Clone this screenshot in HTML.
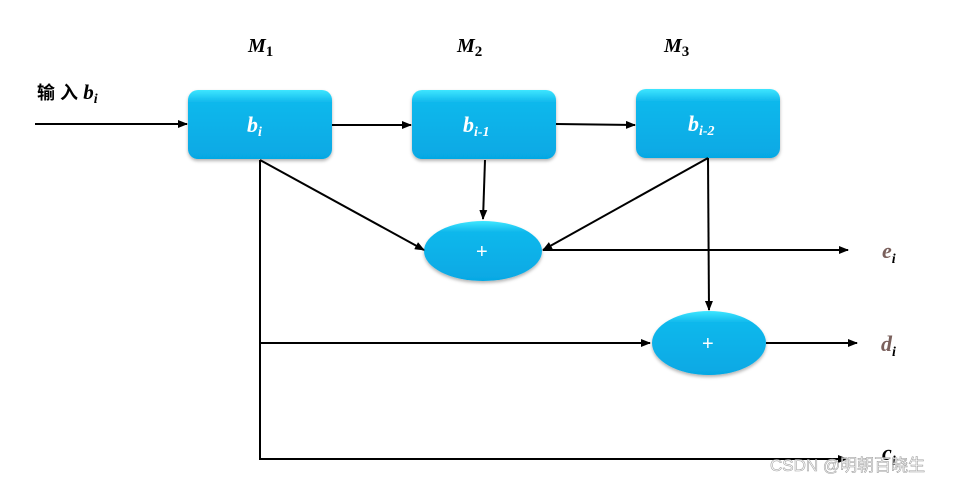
<html><head><style>body{margin:0;background:#fff}svg{display:block}</style></head><body>
<svg width="956" height="484" viewBox="0 0 956 484" xmlns="http://www.w3.org/2000/svg">
<defs>
<marker id="a" markerWidth="10" markerHeight="8" refX="9" refY="4" orient="auto" markerUnits="userSpaceOnUse"><path d="M0,0L10,4L0,8z" fill="#000"/></marker>
<linearGradient id="g" x1="0" y1="0" x2="0" y2="1"><stop offset="0" stop-color="#3ee6ff"/><stop offset="0.18" stop-color="#10b8ec"/><stop offset="1" stop-color="#06a8e4"/></linearGradient>
<filter id="s"><feDropShadow dx="0" dy="2" stdDeviation="1.5" flood-color="#000" flood-opacity="0.3"/></filter>
</defs>
<g fill="url(#g)" filter="url(#s)">
<rect x="188" y="90" width="144" height="69" rx="10"/>
<rect x="412" y="90" width="144" height="69" rx="10"/>
<rect x="636" y="89" width="144" height="69" rx="10"/>
<ellipse cx="483" cy="251" rx="59" ry="30"/>
<ellipse cx="709" cy="343" rx="57" ry="32"/>
</g>
<g stroke="#000" stroke-width="2" fill="none" marker-end="url(#a)">
<line x1="35" y1="124" x2="187" y2="124"/>
<line x1="332" y1="125" x2="411" y2="125"/>
<line x1="556" y1="124" x2="635" y2="125"/>
<line x1="260" y1="160" x2="424" y2="250"/>
<line x1="485" y1="160" x2="483" y2="219"/>
<line x1="708" y1="158" x2="543" y2="250"/>
<line x1="708" y1="158" x2="709" y2="310"/>
<line x1="543" y1="250" x2="848" y2="250"/>
<line x1="260" y1="343" x2="650" y2="343"/>
<line x1="766" y1="343" x2="857" y2="343"/>
<polyline points="260,160 260,459 847,459"/>
</g>
<g font-family="Liberation Serif, serif" font-weight="bold" font-style="italic">
<text x="248" y="52" font-size="20">M<tspan font-size="15" dy="4" font-style="normal">1</tspan></text>
<text x="457" y="52" font-size="20">M<tspan font-size="15" dy="4" font-style="normal">2</tspan></text>
<text x="664" y="52" font-size="20">M<tspan font-size="15" dy="4" font-style="normal">3</tspan></text>
<text x="37" y="99" font-size="18" font-style="normal" font-family="Liberation Sans, Noto Sans CJK SC, sans-serif">输 入<tspan font-family="Liberation Serif, serif" font-style="italic" font-size="21"> b</tspan><tspan font-size="14" dy="4" font-family="Liberation Serif, serif" font-style="italic">i</tspan></text>
<g fill="#fff">
<text x="247" y="132" font-size="22">b<tspan font-size="14" dy="4">i</tspan></text>
<text x="463" y="132" font-size="22">b<tspan font-size="14" dy="4">i-1</tspan></text>
<text x="688" y="131" font-size="22">b<tspan font-size="14" dy="4">i-2</tspan></text>
</g>
<text x="882" y="258" font-size="22" fill="#7a605c">e<tspan font-size="14" dy="5" fill="#000">i</tspan></text>
<text x="881" y="351" font-size="22" fill="#7a605c">d<tspan font-size="14" dy="5" fill="#000">i</tspan></text>
<text x="882" y="460" font-size="22">c<tspan font-size="14" dy="5">i</tspan></text>
</g>
<g fill="#fff" font-family="Liberation Sans, sans-serif" font-size="20"><text x="476" y="258">+</text><text x="702" y="350">+</text></g>
<text x="770" y="471" font-family="Liberation Sans, Noto Sans CJK SC, sans-serif" font-size="17" fill="#fff" stroke="#999" stroke-width="0.6" opacity="0.9">CSDN @明朝百晓生</text>
</svg>
</body></html>
